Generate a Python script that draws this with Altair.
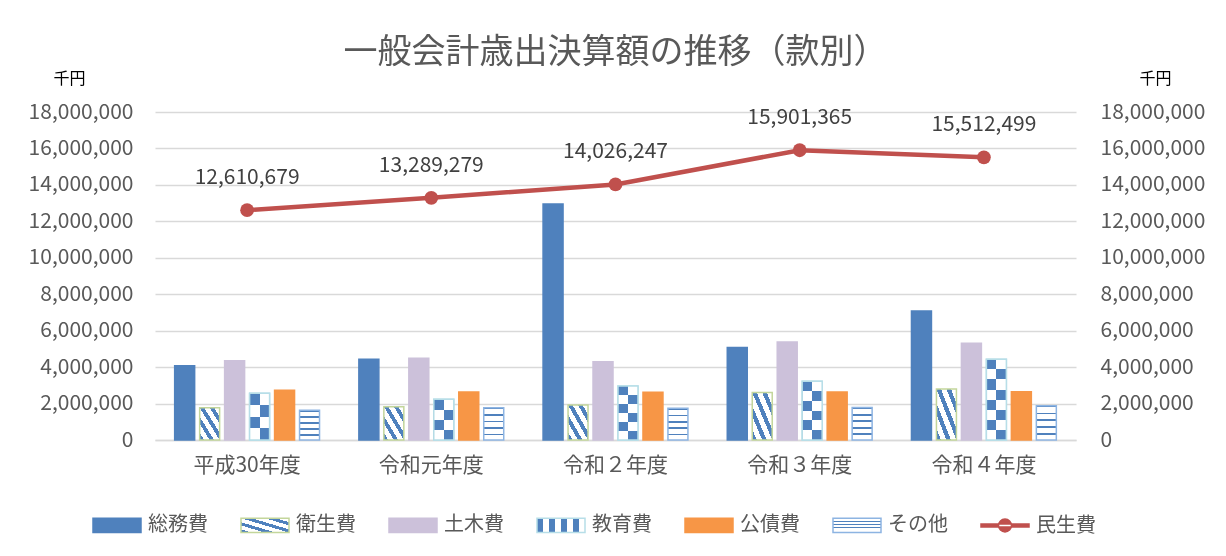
import json
import altair as alt
import pandas as pd

FONT = "Noto Sans CJK JP"

# ---------------- data ----------------
years = ["平成30年度", "令和元年度", "令和２年度", "令和３年度", "令和４年度"]
bar_series = ["総務費", "衛生費", "土木費", "教育費", "公債費", "その他"]
somu = [4080000, 4430000, 12950000, 5070000, 7080000]      # 総務費
eisei = [1770000, 1830000, 1920000, 2600000, 2800000]      # 衛生費
doboku = [4350000, 4480000, 4300000, 5380000, 5310000]     # 土木費
kyoiku = [2560000, 2230000, 2960000, 3220000, 4430000]     # 教育費
kosai = [2730000, 2630000, 2620000, 2630000, 2650000]      # 公債費
sonota = [1630000, 1770000, 1740000, 1790000, 1880000]     # その他
minsei = [12610679, 13289279, 14026247, 15901365, 15512499]  # 民生費
legend_order = bar_series + ["民生費"]
y_ticks = [0, 2000000, 4000000, 6000000, 8000000, 10000000,
           12000000, 14000000, 16000000, 18000000]

rows = []
for name, vals in zip(bar_series, [somu, eisei, doboku, kyoiku, kosai, sonota]):
    for yr, v in zip(years, vals):
        rows.append({"year": yr, "series": name, "value": v})
bars_df = pd.DataFrame(rows)
line_df = pd.DataFrame({"year": years, "series": ["民生費"] * 5, "value": minsei})

# ---------------- styles ----------------
BLUE = "#4F81BD"
LAV = "#CCC1DA"
ORANGE = "#F79646"
RED = "#C0504D"
WHITE = "#FFFFFF"
GRID = "#D9D9D9"
TXT = "#595959"


def stripes(x1, y1, x2, y2, n, duty, c_on, c_off):
    stops = []
    for k in range(n):
        a = k / n
        b = (k + duty) / n
        c = (k + 1) / n
        stops += [{"offset": a, "color": c_on}, {"offset": b, "color": c_on},
                  {"offset": b, "color": c_off}, {"offset": c, "color": c_off}]
    return {"gradient": "linear", "x1": x1, "y1": y1, "x2": x2, "y2": y2,
            "stops": stops}


diag = stripes(0, 1, 1, 0, 4, 0.45, BLUE, WHITE)        # 衛生費
vstripe = stripes(0, 0, 1, 0, 4, 0.5, BLUE, WHITE)      # 教育費 (legend)
hlines = stripes(0, 0, 0, 1, 5, 0.25, BLUE, WHITE)      # その他

fill_range = [BLUE, {"expr": json.dumps(diag)}, LAV, {"expr": json.dumps(vstripe)},
              ORANGE, {"expr": json.dumps(hlines)}, RED]
stroke_range = [BLUE, "#C3D69B", LAV, "#B7DEE8", ORANGE, "#8DB4E2", RED]
rect_path = "M-1,-0.3H1V0.3H-1Z"
line_path = ("M-1,-0.06H1V0.06H-1Z "
             "M-0.27,0A0.27,0.27 0 1,0 0.27,0A0.27,0.27 0 1,0 -0.27,0Z")
shape_range = [rect_path] * 6 + [line_path]

# ---------------- encodings ----------------
x_enc = alt.X("year:N", sort=years,
              scale=alt.Scale(domain=years, paddingInner=0.2, paddingOuter=0.1),
              axis=alt.Axis(title=None, labelAngle=0, labelFontSize=21,
                            labelColor=TXT, labelFont=FONT, labelPadding=14,
                            ticks=False, domain=True, domainColor=GRID,
                            domainWidth=1.5, grid=False))
xoff_enc = alt.XOffset("series:N",
                       scale=alt.Scale(domain=bar_series, paddingInner=0.2,
                                       paddingOuter=0.05))
y_left = alt.Y("value:Q", scale=alt.Scale(domain=[0, 18000000], nice=False),
               axis=alt.Axis(orient="left", values=y_ticks, format=",.0f",
                             labelFontSize=21, labelColor=TXT, labelFont=FONT,
                             labelPadding=22, ticks=False, domain=False,
                             grid=True, gridColor=GRID, gridWidth=1.5,
                             title="千円", titleAngle=0, titleAlign="center",
                             titleBaseline="middle", titleX=-86, titleY=-34,
                             titleFontSize=16, titleFont=FONT,
                             titleFontWeight="normal", titleColor="#000000"))
y_right = alt.Y("value:Q", scale=alt.Scale(domain=[0, 18000000], nice=False),
                axis=alt.Axis(orient="right", values=y_ticks, format=",.0f",
                              labelFontSize=21, labelColor=TXT, labelFont=FONT,
                              labelPadding=24, ticks=False, domain=False,
                              grid=False,
                              title="千円", titleAngle=0, titleAlign="center",
                              titleBaseline="middle", titleX=79, titleY=-34,
                              titleFontSize=16, titleFont=FONT,
                              titleFontWeight="normal", titleColor="#000000"))

# ---------------- bars ----------------
base = alt.Chart(bars_df)
bars = base.mark_bar(strokeWidth=1.5).encode(
    x=x_enc, xOffset=xoff_enc, y=y_left,
    fill=alt.Fill("series:N", scale=alt.Scale(domain=legend_order, range=fill_range),
                  legend=None),
    stroke=alt.Stroke("series:N", scale=alt.Scale(domain=legend_order, range=stroke_range),
                      legend=None),
)

# checker pattern for 教育費 built with blend modes
kyo = base.transform_filter(alt.datum.series == "教育費")
BLACK = "#000000"
halfcols = stripes(0, 0, 1, 0, 1, 0.5, BLACK, WHITE)
layer_a = kyo.mark_bar(fill=halfcols).encode(x=x_enc, xOffset=xoff_enc, y=y_left)
b_layers = []
for yr, v in zip(years, kyoiku):
    n_rows = max(2, round(v / 500000))
    n_per = max(1, n_rows // 2)
    g = stripes(0, 0, 0, 1, n_per, 0.5, BLACK, WHITE)
    b_layers.append(
        kyo.transform_filter(alt.datum.year == yr)
        .mark_bar(fill=g, blend="difference")
        .encode(x=x_enc, xOffset=xoff_enc, y=y_left)
    )
layer_c = kyo.mark_bar(fill=BLUE, blend="lighten").encode(x=x_enc, xOffset=xoff_enc, y=y_left)
layer_d = kyo.mark_bar(fillOpacity=0, stroke="#B7DEE8", strokeWidth=1.5).encode(
    x=x_enc, xOffset=xoff_enc, y=y_left)

bars_group = alt.layer(bars, layer_a, *b_layers, layer_c, layer_d)

# ---------------- line ----------------
lbase = alt.Chart(line_df)
line = lbase.mark_line(color=RED, strokeWidth=4.5).encode(x=x_enc, y=y_right)
pts = lbase.mark_circle(size=190, color=RED, opacity=1).encode(x=x_enc, y=y_right)
labels = lbase.mark_text(dy=-32, fontSize=21, color="#404040", font=FONT).encode(
    x=x_enc, y=y_right, text=alt.Text("value:Q", format=","))
line_group = alt.layer(line, pts, labels)

# ---------------- legend ----------------
leg = alt.Legend(title=None, orient="none", legendX=-63, legendY=388,
                 direction="horizontal", columns=7, symbolSize=2304,
                 labelFontSize=20, labelColor=TXT, labelFont=FONT, labelOffset=6,
                 columnPadding=30, symbolStrokeWidth=1.5, labelLimit=200)
legend_layer = lbase.transform_filter("false").mark_point(filled=True, opacity=1).encode(
    fill=alt.Fill("series:N", scale=alt.Scale(domain=legend_order, range=fill_range), legend=leg),
    stroke=alt.Stroke("series:N", scale=alt.Scale(domain=legend_order, range=stroke_range), legend=leg),
    shape=alt.Shape("series:N", scale=alt.Scale(domain=legend_order, range=shape_range), legend=leg),
)

chart = alt.layer(bars_group, line_group, legend_layer).resolve_scale(
    y="independent", fill="independent", stroke="independent", shape="independent"
).properties(
    width=921, height=328,
    title=alt.TitleParams("一般会計歳出決算額の推移（款別）", fontSize=34, color=TXT,
                          font=FONT, fontWeight="normal", anchor="middle", offset=0),
    autosize=alt.AutoSizeParams(type="none"),
    padding={"left": 155, "top": 112, "right": 150, "bottom": 116},
).configure(font=FONT).configure_view(strokeWidth=0)

chart.save("out.html", embed_options={"renderer": "svg", "actions": False})
